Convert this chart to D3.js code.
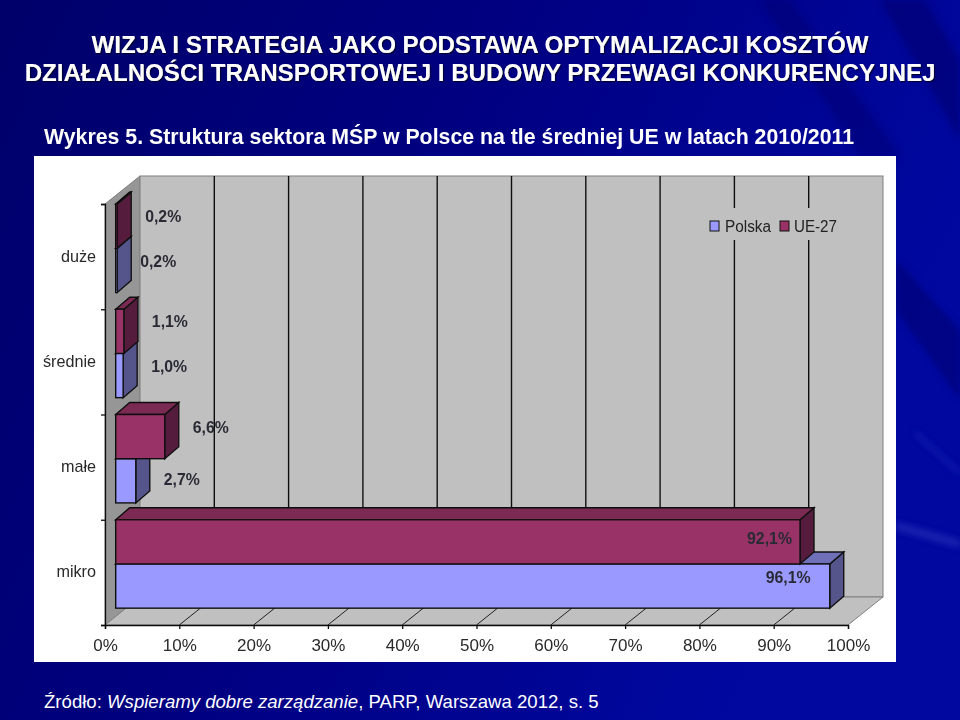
<!DOCTYPE html>
<html>
<head>
<meta charset="utf-8">
<script src="https://cdn.jsdelivr.net/npm/d3@7"></script>
<style>
html, body { margin: 0; padding: 0; background: #00007a; }
svg { display: block; }
text { font-family: "Liberation Sans", Arial, sans-serif; }
</style>
</head>
<body>
<script>
var categories = ["duże", "średnie", "małe", "mikro"];
var seriesNames = ["UE-27", "Polska"];
var ue27Values = [0.2, 1.1, 6.6, 92.1];
var polskaValues = [0.2, 1.0, 2.7, 96.1];
var ue27Labels = ["0,2%", "1,1%", "6,6%", "92,1%"];
var polskaLabels = ["0,2%", "1,0%", "2,7%", "96,1%"];
var xTicks = [0, 10, 20, 30, 40, 50, 60, 70, 80, 90, 100];
var titleLines = ["WIZJA I STRATEGIA JAKO PODSTAWA OPTYMALIZACJI KOSZTÓW",
                  "DZIAŁALNOŚCI TRANSPORTOWEJ I BUDOWY PRZEWAGI KONKURENCYJNEJ"];
var subtitle = "Wykres 5. Struktura sektora MŚP w Polsce na tle średniej UE w latach 2010/2011";

var svg = d3.select("body").append("svg").attr("width", 960).attr("height", 720);
var defs = svg.append("defs");

var bg = defs.append("linearGradient").attr("id", "bg")
    .attr("x1", 0).attr("y1", 0).attr("x2", 1).attr("y2", 0.35);
bg.append("stop").attr("offset", 0).attr("stop-color", "#00006a");
bg.append("stop").attr("offset", 0.5).attr("stop-color", "#000082");
bg.append("stop").attr("offset", 1).attr("stop-color", "#0008a0");
defs.append("filter").attr("id", "soft").append("feGaussianBlur").attr("stdDeviation", 0.55);
defs.append("filter").attr("id", "streak").append("feGaussianBlur").attr("stdDeviation", 3);
defs.append("filter").attr("id", "shadow").append("feDropShadow")
    .attr("dx", 1.2).attr("dy", 1.2).attr("stdDeviation", 0.6).attr("flood-color", "#000030");

svg.append("rect").attr("width", 960).attr("height", 720).attr("fill", "url(#bg)");

// streaks in the slide background, running down from the top right
var streaks = svg.append("g").attr("filter", "url(#streak)");
streaks.append("path").attr("fill", "#00006c").attr("opacity", 0.55).attr("d", "M880,0 L925,0 L960,60 L960,140 Z");
streaks.append("path").attr("fill", "#000070").attr("opacity", 0.5).attr("d", "M760,0 L790,0 L900,156 L860,156 Z");
streaks.append("path").attr("fill", "#000068").attr("opacity", 0.5).attr("d", "M896,260 L960,330 L960,400 L896,310 Z");
streaks.append("path").attr("fill", "#3040c0").attr("opacity", 0.5).attr("d", "M896,522 L960,540 L960,548 L896,530 Z");
streaks.append("path").attr("fill", "#3040c0").attr("opacity", 0.3).attr("d", "M915,430 L960,470 L960,476 L915,436 Z");

// titles
var head = svg.append("g").attr("filter", "url(#shadow)").attr("fill", "#fff");
head.selectAll("text.t").data(titleLines).enter().append("text")
    .attr("class", "t")
    .attr("x", 480)
    .attr("y", function(d, i) { return 53 + i * 28; })
    .attr("text-anchor", "middle")
    .attr("font-size", 24.1)
    .attr("font-weight", "bold")
    .attr("fill", "#fff")
    .text(function(d) { return d; });
svg.append("text").attr("x", 44).attr("y", 144)
    .attr("font-size", 21.3).attr("font-weight", "bold").attr("fill", "#fff")
    .text(subtitle);

// chart panel
svg.append("rect").attr("x", 34).attr("y", 156).attr("width", 862).attr("height", 506).attr("fill", "#fff");

var chart = svg.append("g").attr("filter", "url(#soft)");

var x = d3.scaleLinear().domain([0, 100]).range([105, 848]);
var y = d3.scaleBand().domain(categories).range([204, 625]);
var depthX = 35, depthY = -28;          // box depth
var barDx = 10.7, barDepthX = 14, barDepthY = -12;
var barH = y.bandwidth() * 0.42;
var yTopEdge = y.range()[0], yBottomEdge = y.range()[1];

function line(pts) { return d3.line()(pts) + "Z"; }

// left wall, back wall, floor
chart.append("path").attr("fill", "#969696").attr("stroke", "#808080")
    .attr("d", line([[x(0), yTopEdge], [x(0) + depthX, yTopEdge + depthY], [x(0) + depthX, yBottomEdge + depthY], [x(0), yBottomEdge]]));
chart.append("rect").attr("fill", "#c0c0c0").attr("stroke", "#808080")
    .attr("x", x(0) + depthX).attr("y", yTopEdge + depthY)
    .attr("width", x(100) - x(0)).attr("height", yBottomEdge - yTopEdge);
chart.append("path").attr("fill", "#c0c0c0").attr("stroke", "#808080")
    .attr("d", line([[x(0), yBottomEdge], [x(0) + depthX, yBottomEdge + depthY], [x(100) + depthX, yBottomEdge + depthY], [x(100), yBottomEdge]]));

// gridlines on back wall and floor
var inner = xTicks.slice(1, -1);
chart.selectAll("line.wall").data(inner).enter().append("line").attr("class", "wall")
    .attr("x1", function(d) { return x(d) + depthX; })
    .attr("x2", function(d) { return x(d) + depthX; })
    .attr("y1", yTopEdge + depthY).attr("y2", yBottomEdge + depthY)
    .attr("stroke", "#111").attr("stroke-width", 1.4);
chart.selectAll("line.floor").data(inner).enter().append("line").attr("class", "floor")
    .attr("x1", function(d) { return x(d); })
    .attr("x2", function(d) { return x(d) + depthX; })
    .attr("y1", yBottomEdge).attr("y2", yBottomEdge + depthY)
    .attr("stroke", "#222").attr("stroke-width", 1);

// legend box hides the gridlines behind it
var legend = chart.append("g");
legend.append("rect").attr("x", 703).attr("y", 208).attr("width", 140).attr("height", 32).attr("fill", "#c0c0c0");
var legendItems = [
    { name: seriesNames[1], sx: 710, tx: 725, fill: "#9999ff" },
    { name: seriesNames[0], sx: 780, tx: 794, fill: "#993366" }
];
legend.selectAll("rect.sw").data(legendItems).enter().append("rect").attr("class", "sw")
    .attr("x", function(d) { return d.sx; }).attr("y", 221).attr("width", 9).attr("height", 10)
    .attr("fill", function(d) { return d.fill; }).attr("stroke", "#111");
legend.selectAll("text").data(legendItems).enter().append("text")
    .attr("x", function(d) { return d.tx; }).attr("y", 232)
    .attr("font-size", 16).attr("fill", "#222")
    .attr("textLength", function(d) { return d.name == "Polska" ? 46 : 43; })
    .attr("lengthAdjust", "spacingAndGlyphs")
    .text(function(d) { return d.name; });

// one 3D bar: side, top, then front
function drawBar(g, value, yTop, c) {
    var x0 = x(0) + barDx;
    var x1 = x(value) + barDx;
    var y1 = yTop + barH;
    g.append("path").attr("fill", c.side).attr("stroke", "#111").attr("stroke-width", 1.4)
        .attr("d", line([[x1, yTop], [x1 + barDepthX, yTop + barDepthY], [x1 + barDepthX, y1 + barDepthY], [x1, y1]]));
    g.append("path").attr("fill", c.top).attr("stroke", "#111").attr("stroke-width", 1.4)
        .attr("d", line([[x0, yTop], [x0 + barDepthX, yTop + barDepthY], [x1 + barDepthX, yTop + barDepthY], [x1, yTop]]));
    g.append("rect").attr("x", x0).attr("y", yTop).attr("width", x1 - x0).attr("height", y1 - yTop)
        .attr("fill", c.front).attr("stroke", "#111").attr("stroke-width", 1.4);
}

var ueColors = { front: "#993366", top: "#7a2a52", side: "#561d3c" };
var plColors = { front: "#9999ff", top: "#6f6fb8", side: "#55558c" };

var bars = chart.append("g");
categories.forEach(function(c, i) {
    var yb = y(c);
    // Polska sits in front, UE-27 behind it, drawn back to front
    var gPl = bars.append("g"), gUe = bars.append("g");
    drawBar(gPl, polskaValues[i], yb + barH, plColors);
    drawBar(gUe, ue27Values[i], yb, ueColors);
});

// data labels: past the bar end for small values, inside for large ones
function labelX(v, isPl) {
    var end = x(v) + barDx;
    if (v > 50) return end - (isPl ? 19 : 8);
    return end + 28 + 18;
}
var labelRows = [];
categories.forEach(function(c, i) {
    labelRows.push({ t: ue27Labels[i], v: ue27Values[i], pl: false, y: y(c) + (i == 3 ? 24 : 18) });
    labelRows.push({ t: polskaLabels[i], v: polskaValues[i], pl: true, y: y(c) + (i == 2 ? 70 : 63) });
});
chart.selectAll("text.val").data(labelRows).enter().append("text").attr("class", "val")
    .attr("x", function(d) { return labelX(d.v, d.pl) - (d.pl && d.v < 0.5 ? 5 : 0); })
    .attr("y", function(d) { return d.y; })
    .attr("text-anchor", function(d) { return d.v > 50 ? "end" : "middle"; })
    .attr("font-size", 16).attr("font-weight", "bold").attr("fill", "#2a2a35")
    .attr("textLength", function(d) { return d.v > 50 ? 45 : 36; })
    .attr("lengthAdjust", "spacingAndGlyphs")
    .text(function(d) { return d.t; });

// axes
var xAxis = d3.axisBottom(x).tickValues(xTicks).tickSize(4).tickPadding(10)
    .tickFormat(function(d) { return d + "%"; });
var gx = chart.append("g").attr("transform", "translate(0," + yBottomEdge + ")").call(xAxis);
var yAxis = d3.axisLeft(d3.scaleLinear().domain([0, 4]).range([yTopEdge, yBottomEdge])).ticks(4).tickSize(4).tickFormat("");
var gy = chart.append("g").attr("transform", "translate(" + x(0) + ",0)").call(yAxis);
gx.selectAll("path,line").attr("stroke", "#111").attr("stroke-width", 1.3);
gy.selectAll("path,line").attr("stroke", "#111").attr("stroke-width", 1.3);
gx.selectAll("text").attr("font-size", 17).attr("fill", "#2a2a2a")
    .attr("font-family", "Liberation Sans");

chart.selectAll("text.cat").data(categories).enter().append("text").attr("class", "cat")
    .attr("x", 96)
    .attr("y", function(d) { return y(d) + y.bandwidth() / 2 + 5; })
    .attr("text-anchor", "end")
    .attr("font-size", 16.2).attr("fill", "#2a2a2a")
    .text(function(d) { return d; });

// source line
var src = svg.append("text").attr("x", 44).attr("y", 708).attr("font-size", 18.6).attr("fill", "#fff");
src.append("tspan").text("Źródło: ");
src.append("tspan").attr("font-style", "italic").text("Wspieramy dobre zarządzanie");
src.append("tspan").text(", PARP, Warszawa 2012, s. 5");
</script>
</body>
</html>
